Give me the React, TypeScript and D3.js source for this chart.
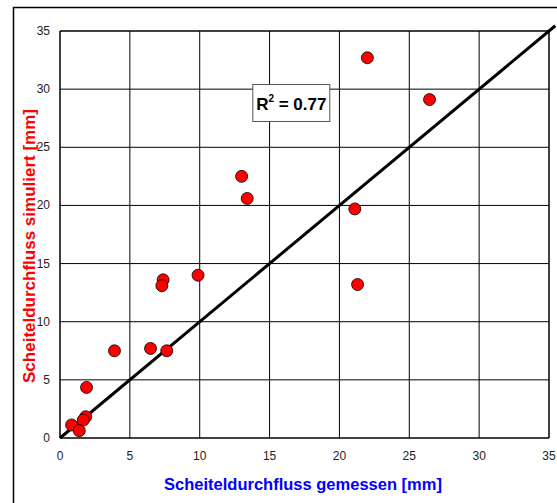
import React, { useEffect, useRef } from 'react';
import * as d3 from 'd3';

// Scheitelabfluss: gemessen vs. simuliert [mm]
const measured = [22.0, 26.45, 13.0, 13.4, 21.1, 21.3, 7.38, 7.29, 9.88, 3.9, 6.48, 7.64, 1.9, 1.84, 1.67, 0.83, 1.38];
const simulated = [32.7, 29.1, 22.5, 20.6, 19.7, 13.2, 13.6, 13.1, 14.0, 7.5, 7.7, 7.5, 4.35, 1.83, 1.54, 1.12, 0.63];
const ticks = [0, 5, 10, 15, 20, 25, 30, 35];
const r2Label = '0.77';

const App = () => {
  const svgRef = useRef<SVGSVGElement>(null);

  useEffect(() => {
    const width = 557;
    const height = 503;
    const margin = { top: 31, right: 8, bottom: 65, left: 60 };

    const svg = d3.select(svgRef.current)
      .attr('width', width)
      .attr('height', height)
      .style('background', '#fff');
    svg.selectAll('*').remove();

    // outer frame
    svg.append('rect')
      .attr('x', 13.5).attr('y', 7.5)
      .attr('width', 560).attr('height', 520)
      .attr('fill', 'none').attr('stroke', '#000').attr('stroke-width', 1.5);

    const x = d3.scaleLinear().domain([0, 35]).range([margin.left, width - margin.right]);
    const y = d3.scaleLinear().domain([0, 35]).range([height - margin.bottom, margin.top]);

    const grid = svg.append('g');
    ticks.forEach(t => {
      grid.append('line')
        .attr('x1', x(t)).attr('x2', x(t))
        .attr('y1', y(0)).attr('y2', y(35))
        .attr('stroke', '#000').attr('stroke-width', t === 0 || t === 35 ? 1.5 : 1);
      grid.append('line')
        .attr('x1', x(0)).attr('x2', x(35))
        .attr('y1', y(t)).attr('y2', y(t))
        .attr('stroke', '#000').attr('stroke-width', t === 0 || t === 35 ? 1.5 : 1);
    });

    const font = '"Liberation Sans", Arial, sans-serif';

    svg.append('g').selectAll('text.xt')
      .data(ticks).enter().append('text')
      .attr('x', d => x(d)).attr('y', y(0) + 22)
      .attr('text-anchor', 'middle')
      .style('font-family', font).style('font-size', '12px').attr('fill', '#222')
      .text(d => d);

    svg.append('g').selectAll('text.yt')
      .data(ticks).enter().append('text')
      .attr('x', x(0) - 10).attr('y', d => y(d) + 4)
      .attr('text-anchor', 'end')
      .style('font-family', font).style('font-size', '12px').attr('fill', '#222')
      .text(d => d);

    // 1:1 line
    const line = d3.line<number>().x(d => x(d)).y(d => y(d));
    svg.append('path')
      .datum([0, 35.45])
      .attr('d', line)
      .attr('fill', 'none').attr('stroke', '#000').attr('stroke-width', 3);

    svg.append('g').selectAll('circle')
      .data(measured.map((m, i) => [m, simulated[i]]))
      .enter().append('circle')
      .attr('cx', d => x(d[0])).attr('cy', d => y(d[1]))
      .attr('r', 6)
      .attr('fill', '#ff0000').attr('stroke', '#000').attr('stroke-width', 0.8);

    // R² box
    const bx = x(13.8), by = y(30.4);
    svg.append('rect')
      .attr('x', bx).attr('y', by)
      .attr('width', 77).attr('height', 37)
      .attr('fill', '#fff').attr('stroke', '#555').attr('stroke-width', 1);
    const rt = svg.append('text')
      .attr('x', bx + 38.5).attr('y', by + 25.5)
      .attr('text-anchor', 'middle')
      .style('font-family', font).style('font-size', '17px').style('font-weight', 'bold')
      .attr('fill', '#000');
    rt.append('tspan').text('R');
    rt.append('tspan').attr('dy', -8).style('font-size', '10px').text('2');
    rt.append('tspan').attr('dy', 8).text(` = ${r2Label}`);

    svg.append('text')
      .attr('x', 303).attr('y', 490)
      .attr('text-anchor', 'middle')
      .style('font-family', font).style('font-size', '16.5px').style('font-weight', 'bold')
      .attr('fill', '#0000ff')
      .text('Scheiteldurchfluss gemessen [mm]');

    svg.append('text')
      .attr('transform', `translate(35,246) rotate(-90)`)
      .attr('text-anchor', 'middle')
      .style('font-family', font).style('font-size', '17px').style('font-weight', 'bold')
      .attr('fill', '#ff0000')
      .text('Scheiteldurchfluss simuliert [mm]');
  }, []);

  return <svg ref={svgRef} style={{ position: 'absolute', left: 0, top: 0 }} />;
};

export default App;
